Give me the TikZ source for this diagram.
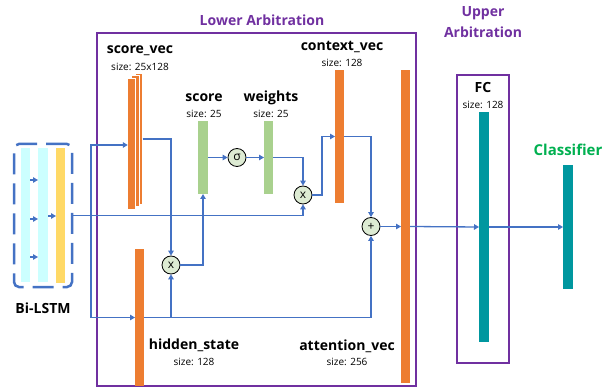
\documentclass[tikz,border=0pt]{standalone}
\usepackage{fontspec}
\setmainfont{Open Sans}
\usetikzlibrary{arrows.meta,calc}
\definecolor{lblue}{HTML}{4472C4}
\definecolor{purp}{HTML}{7030A0}
\definecolor{orng}{HTML}{ED7D31}
\definecolor{lgreen}{HTML}{A9D18E}
\definecolor{teal2}{HTML}{00979F}
\definecolor{lcyan}{HTML}{CCFFFF}
\definecolor{ylw}{HTML}{FFD966}
\definecolor{opfill}{HTML}{DDEBD3}
\definecolor{clsgreen}{HTML}{00B050}
\tikzset{
  bar/.style={rectangle, inner sep=0pt, outer sep=0pt, draw=none},
  arr/.style={draw=lblue, line width=1.3pt, -{Triangle[length=5pt,width=5.5pt]}},
  op/.style={circle, draw=black, line width=0.8pt, fill=opfill, minimum size=18pt, inner sep=0pt, font=\fontsize{12}{13}\selectfont},
  nm/.style={inner sep=0pt, font=\fontsize{14}{16}\selectfont\bfseries},
  sz/.style={inner sep=0pt, font=\fontsize{10}{12}\selectfont},
  ttl/.style={inner sep=0pt, text=purp, font=\fontsize{14}{16}\selectfont\bfseries},
  pbox/.style={draw=purp, line width=2pt}
}
\begin{document}
\begin{tikzpicture}[x=1pt,y=-1pt]
\useasboundingbox (0,0) rectangle (602,390);

% arbitration boxes
\draw[pbox] (97,33) rectangle (416,386);
\draw[pbox] (457,75) rectangle (509,363);
\node[ttl] (lowt) at (262,20) {Lower Arbitration};
\node[ttl] (upt1) at (483,13) {Upper};
\node[ttl] (upt2) at (483,32) {Arbitration};

% Bi-LSTM
\node[bar, fill=lcyan, minimum width=9pt, minimum height=134pt] (c1) at (25.5,215) {};
\node[bar, fill=lcyan, minimum width=10pt, minimum height=134pt] (c2) at (43,215) {};
\node[bar, fill=ylw, minimum width=9pt, minimum height=135pt] (yb) at (60.5,215.5) {};
\node[rectangle, draw=lblue, line width=2.5pt, rounded corners=5pt, dash pattern=on 21pt off 9pt, minimum width=58pt, minimum height=143pt, inner sep=0pt] (bilstm) at (43,215.5) {};
\node[nm] (bll) at (43,308) {Bi-LSTM};
\draw[arr, line width=1.5pt] (c1.east |- 0,180) -- (c2.west |- 0,180);
\draw[arr, line width=1.5pt] (c1.east |- 0,219) -- (c2.west |- 0,219);
\draw[arr, line width=1.5pt] (c1.east |- 0,257) -- (c2.west |- 0,257);
\draw[arr, line width=1.5pt] (c2.east |- 0,216) -- (yb.west |- 0,216);

% bars
\node[bar, fill=orng, draw=white, line width=0.8pt, minimum width=7.4pt, minimum height=131pt] (sv3) at (138.9,138.9) {};
\node[bar, fill=orng, draw=white, line width=0.8pt, minimum width=7.4pt, minimum height=131pt] (sv2) at (135.2,141.2) {};
\node[bar, fill=orng, draw=white, line width=0.8pt, minimum width=7.4pt, minimum height=131pt] (sv1) at (131.5,143.5) {};
\node[bar, fill=orng, minimum width=9pt, minimum height=137pt] (hs) at (139.5,317.5) {};
\node[bar, fill=lgreen, minimum width=10pt, minimum height=73pt] (score) at (203,157.5) {};
\node[bar, fill=lgreen, minimum width=9pt, minimum height=73pt] (wts) at (268.5,157.5) {};
\node[bar, fill=orng, minimum width=9pt, minimum height=133pt] (ctx) at (339.5,136.5) {};
\node[bar, fill=orng, minimum width=9pt, minimum height=313pt] (att) at (405.5,226.5) {};
\node[bar, fill=teal2, minimum width=10pt, minimum height=230pt] (fc) at (484,227) {};
\node[bar, fill=teal2, minimum width=10pt, minimum height=124pt] (cls) at (568,227) {};

% labels
\node[nm] (l1) at (140,51) {score\_vec};
\node[sz] (s1) at (140,67) {size: 25x128};
\node[nm] (l2) at (204,98) {score};
\node[sz] (s2) at (204,114) {size: 25};
\node[nm] (l3) at (271,98) {weights};
\node[sz] (s3) at (271,114) {size: 25};
\node[nm] (l4) at (342,47) {context\_vec};
\node[sz] (s4) at (342,63) {size: 128};
\node[nm] (l5) at (194,345) {hidden\_state};
\node[sz] (s5) at (194,362) {size: 128};
\node[nm] (l6) at (347,346) {attention\_vec};
\node[sz] (s6) at (347,362) {size: 256};
\node[nm] (l7) at (483,88) {FC};
\node[sz] (s7) at (483,105) {size: 128};
\node[nm, text=clsgreen, font=\fontsize{15}{17}\selectfont\bfseries] (l8) at (568,150) {Classifier};

% operators
\node[op] (mulA) at (171,265) {x};
\node[op] (sig) at (237,157.5) {σ};
\node[op] (mulB) at (303,195) {x};
\node[op] (plus) at (371,226.5) {+};

% connectors
\coordinate (j1) at (91,215.5);
\coordinate (c1p) at (322,136.5);
\draw[arr] (bilstm.east) -| (mulB.south);
\draw[arr] (j1) |- ([yshift=-1.5pt]sv1.west);
\draw[arr] (j1) |- (hs.west);
\draw[arr] (hs.east) -| (plus.south);
\draw[arr] (mulA.south |- hs.east) -- (mulA.south);
\draw[arr] (sv3.east) -| (mulA.north);
\draw[arr] (mulA.east) -| (score.south);
\draw[arr] (score.east) -- (sig.west);
\draw[arr] (sig.east) -- (wts.west);
\draw[arr] (wts.east) -| (mulB.north);
\draw[arr] (mulB.east) -| (c1p) -- (ctx.west);
\draw[arr] (ctx.east) -| (plus.north);
\draw[arr] (plus.east) -- (att.west);
\draw[arr] (att.east) -- (fc.west);
\draw[arr] (fc.east) -- (cls.west);
\end{tikzpicture}
\end{document}
